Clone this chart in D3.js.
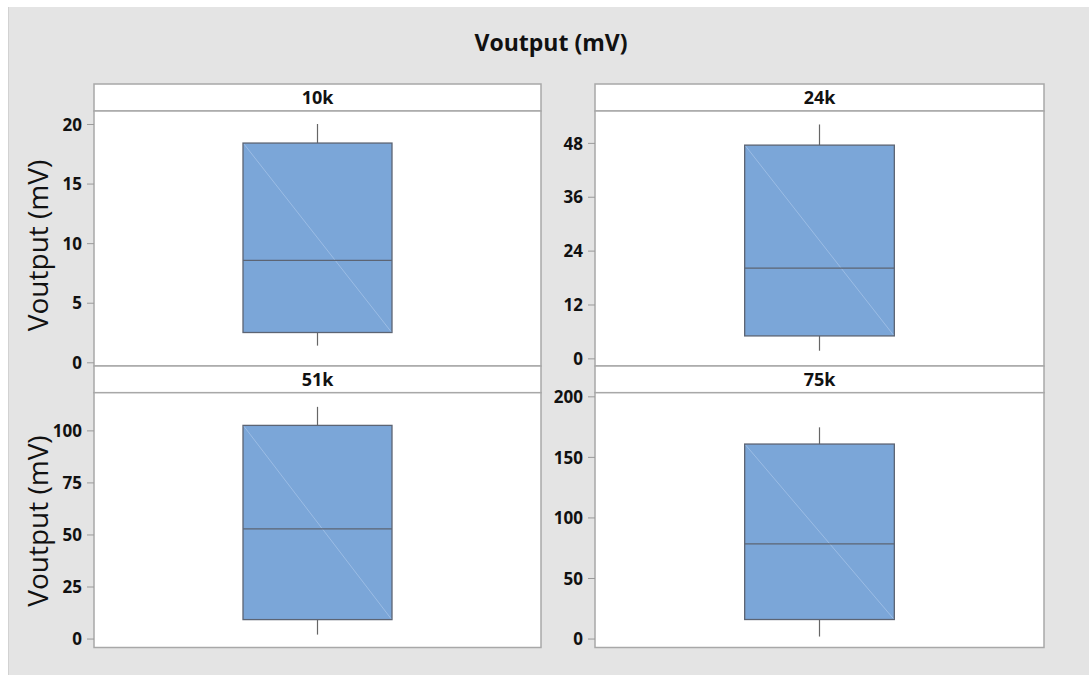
<!DOCTYPE html>
<html><head><meta charset="utf-8">
<script src="https://cdn.jsdelivr.net/npm/d3@7"></script>
<style>html,body{margin:0;padding:0;background:#fff;}svg{display:block;}</style>
</head><body>
<svg id="chart" width="1089" height="675"></svg>
<script>
const categories = ["10k", "24k", "51k", "75k"];
const whiskerLow  = [1.4, 1.7, 1.9, 1.65];
const q1Values    = [2.5, 5.0, 9.1, 15.7];
const medianVals  = [8.55, 20.1, 52.7, 78.2];
const q3Values    = [18.4, 47.5, 102.4, 160.6];
const whiskerHigh = [20.0, 52.1, 111.3, 174.4];
const tickValues  = [[0,5,10,15,20],[0,12,24,36,48],[0,25,50,75,100],[0,50,100,150,200]];
const yDomains    = [[-0.31,21.09],[-1.7,55.1],[-4.3,118.1],[-7.4,203]];
const titleText = "Voutput (mV)";
const yLabel = "Voutput (mV)";

const svg = d3.select("#chart");
const W = 1089, H = 675;
svg.append("rect").attr("x",8).attr("y",7).attr("width",W-8).attr("height",H-7).attr("fill","#e4e4e4");
svg.append("line").attr("x1",8.5).attr("x2",8.5).attr("y1",7).attr("y2",H).attr("stroke","#d2d2d2");

svg.append("text").attr("x",551).attr("y",51).attr("text-anchor","middle")
  .attr("font-family","Open Sans, sans-serif").attr("font-weight","bold").attr("font-size",23)
  .attr("fill","#111").text(titleText);

const cols = [[94,541],[595,1044]];
const rows = [{strip:[84,111],plot:[111,366]},{strip:[366,392.7],plot:[392.7,647.5]}];
const border = "#a8a8a8";
const font = "Open Sans, sans-serif";

categories.forEach((cat,i)=>{
  const c = cols[i%2], r = rows[Math.floor(i/2)];
  const g = svg.append("g");
  // strip
  g.append("rect").attr("x",c[0]).attr("y",r.strip[0]).attr("width",c[1]-c[0]).attr("height",r.strip[1]-r.strip[0])
    .attr("fill","#fff").attr("stroke",border).attr("stroke-width",1.5);
  g.append("text").attr("x",(c[0]+c[1])/2).attr("y",(r.strip[0]+r.strip[1])/2+6.5).attr("text-anchor","middle")
    .attr("font-family",font).attr("font-weight","bold").attr("font-size",18).attr("fill","#111").text(cat);
  // plot
  g.append("rect").attr("x",c[0]).attr("y",r.plot[0]).attr("width",c[1]-c[0]).attr("height",r.plot[1]-r.plot[0])
    .attr("fill","#fff").attr("stroke",border).attr("stroke-width",1.5);
  const y = d3.scaleLinear().domain(yDomains[i]).range([r.plot[1], r.plot[0]]);
  const x = d3.scaleBand().domain([cat]).range(c).paddingInner(0).paddingOuter(1);
  const ax = g.append("g").attr("transform",`translate(${c[0]},0)`)
    .call(d3.axisLeft(y).tickValues(tickValues[i]).tickSize(7).tickPadding(5));
  ax.select(".domain").remove();
  ax.selectAll(".tick line").attr("stroke","#9a9a9a");
  ax.selectAll(".tick text").attr("font-family",font).attr("font-weight","bold").attr("font-size",17).attr("fill","#111").attr("dy","0.36em");
  // box
  const bx = x(cat), bw = x.bandwidth(), cx = bx + bw/2;
  g.append("line").attr("x1",cx).attr("x2",cx).attr("y1",y(whiskerHigh[i])).attr("y2",y(q3Values[i])).attr("stroke","#666").attr("stroke-width",1.2);
  g.append("line").attr("x1",cx).attr("x2",cx).attr("y1",y(q1Values[i])).attr("y2",y(whiskerLow[i])).attr("stroke","#666").attr("stroke-width",1.2);
  g.append("rect").attr("x",bx).attr("y",y(q3Values[i])).attr("width",bw).attr("height",y(q1Values[i])-y(q3Values[i]))
    .attr("fill","#7ba6d8").attr("stroke","#5c6473").attr("stroke-width",1.3);
  g.append("line").attr("x1",bx+1).attr("y1",y(q3Values[i])+1).attr("x2",bx+bw-1).attr("y2",y(q1Values[i])-1)
    .attr("stroke","#a9c6ea").attr("stroke-width",0.7);
  g.append("line").attr("x1",bx).attr("x2",bx+bw).attr("y1",y(medianVals[i])).attr("y2",y(medianVals[i]))
    .attr("stroke","#5c6473").attr("stroke-width",1.3);
  // y label on left column
  if (i%2===0) {
    const cy = (r.plot[0]+r.plot[1])/2 + (i===0?7:1);
    svg.append("text").attr("transform",`translate(48,${cy}) rotate(-90)`).attr("text-anchor","middle")
      .attr("font-family",font).attr("font-size",28).attr("fill","#111").text(yLabel);
  }
});
</script>
</body></html>
